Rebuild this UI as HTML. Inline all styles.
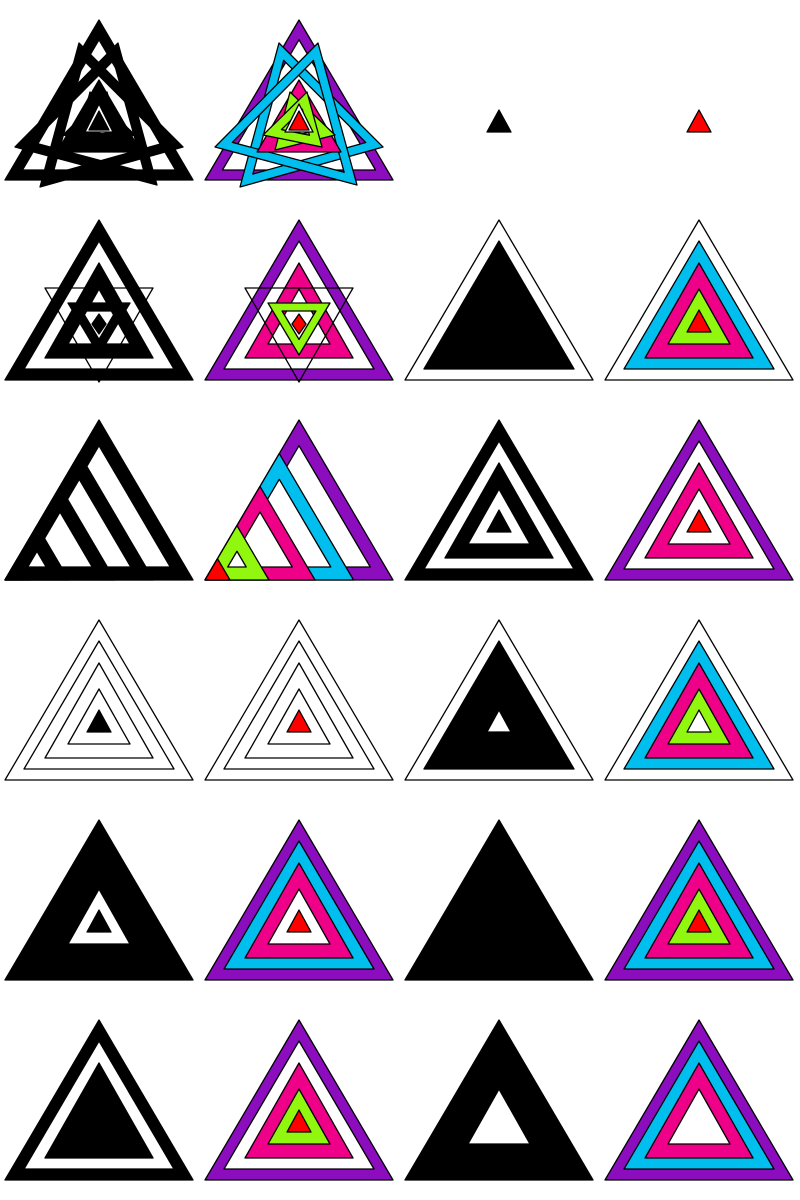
<!DOCTYPE html>
<html><head><meta charset="utf-8"><style>html,body{margin:0;padding:0;background:#fff}svg{display:block}</style></head>
<body>
<svg id="art" width="800" height="1200" viewBox="0 0 800 1200" xmlns="http://www.w3.org/2000/svg"></svg>
<script>
// concentric level geometry (cell-relative)
const LV_APEX = [20, 41, 63, 89, 110];
const LV_BASE = [180, 169, 158, 144, 132];
const LV_HW = [94, 75, 54, 31, 12];
const COLORS = {P:'#8b0dbd', C:'#00bfef', M:'#ee0088', L:'#92f70f', R:'#ff0000', W:'#ffffff'};
// concentric cells: row, col, fills per level
const CONC_ROWS = [0,1,2,3,3,4,4,5,5];
const CONC_COLS = [3,3,3,3,1,3,1,1,3];
const CONC_FILLS = [
  [null,null,null,null,'R'],
  ['W','C','M','L','R'],
  ['P','W','M','W','R'],
  ['W','C','M','L','W'],
  ['W','W','W','W','R'],
  ['P','C','M','L','R'],
  ['P','C','M','W','R'],
  ['P','W','M','L','R'],
  ['P','C','M','W',null]
];
// staircase (row 2) scales anchored at left corner
const STAIR_SCALES = [1, 0.79, 0.585, 0.34, 0.133];
const STAIR_COLORS = ['P','C','M','L','R'];
// rotated rings in row 0: vertices
const RING_TRIS = [
  [[99,20],[193,180],[5,180]],
  [[79,43],[183,147],[40,187]],
  [[118,43],[15,147],[157,185]],
  [[99,80],[141,152],[57,152]],
  [[90,92],[135,135],[75,150]],
  [[107,92],[63,135],[122,147]]
];
const RING_COLORS = ['P','C','C','M','L','L'];
const RING_T = [10,9,9,14,9,9];

const NS='http://www.w3.org/2000/svg';
const svg=document.getElementById('art');
function pts(p){return p.map(q=>q[0].toFixed(2)+','+q[1].toFixed(2)).join(' ');}
function inset(p,t){
  const d=(a,b)=>Math.hypot(a[0]-b[0],a[1]-b[1]);
  const a=d(p[1],p[2]),b=d(p[0],p[2]),c=d(p[0],p[1]),s=a+b+c;
  const ix=(a*p[0][0]+b*p[1][0]+c*p[2][0])/s, iy=(a*p[0][1]+b*p[1][1]+c*p[2][1])/s;
  const area=Math.abs((p[1][0]-p[0][0])*(p[2][1]-p[0][1])-(p[2][0]-p[0][0])*(p[1][1]-p[0][1]))/2;
  const r=2*area/s, k=Math.max(0,(r-t)/r);
  return p.map(q=>[ix+(q[0]-ix)*k, iy+(q[1]-iy)*k]);
}
function mkGroup(r,c,name){
  const g=document.createElementNS(NS,'g');
  g.setAttribute('transform','translate('+(c*200)+','+(r*200)+')');
  
  
  svg.appendChild(g);return g;
}
function fillOf(k,black){if(k==='W')return '#ffffff';return black?'#000000':COLORS[k];}
function tri(g,p,fill,name){
  const e=document.createElementNS(NS,'polygon');
  e.setAttribute('points',pts(p));e.setAttribute('fill',fill);
  e.setAttribute('stroke','#000');e.setAttribute('stroke-width','1.3');e.setAttribute('stroke-linejoin','round');
  
  
  g.appendChild(e);return e;
}
function ring(g,p,t,fill,name){
  const q=inset(p,t);
  const e=document.createElementNS(NS,'path');
  e.setAttribute('d','M'+pts(p).replace(/ /g,' L')+' Z M'+pts(q.slice().reverse()).replace(/ /g,' L')+' Z');
  e.setAttribute('fill',fill);e.setAttribute('fill-rule','evenodd');
  e.setAttribute('stroke','#000');e.setAttribute('stroke-width','1.3');e.setAttribute('stroke-linejoin','round');
  
  
  g.appendChild(e);
}
function level(i){return [[99,LV_APEX[i]],[99+LV_HW[i],LV_BASE[i]],[99-LV_HW[i],LV_BASE[i]]];}
function concentric(g,fills,black){
  fills.forEach((f,i)=>{ if(f) tri(g,level(i),fillOf(f,black),'level-'+i+'-triangle'); });
}
CONC_FILLS.forEach((f,i)=>{
  concentric(mkGroup(CONC_ROWS[i],CONC_COLS[i],'color-cell'),f,false);
  concentric(mkGroup(CONC_ROWS[i],CONC_COLS[i]-1,'black-cell'),f,true);
});
[false,true].forEach(black=>{
  const g=mkGroup(1,black?0:1,black?'black-star-cell':'color-star-cell');
  concentric(g,['P','W','M','W',null],black);
  tri(g,[[45,88],[153,88],[99,182]],'none','inverted-outline');
  ring(g,[[68,103],[130,103],[99,155]],8,fillOf('L',black),'inverted-ring');
  tri(g,[[99,114],[106,124],[99,134],[92,124]],fillOf('R',black),'center-diamond');
});
[false,true].forEach(black=>{
  const g=mkGroup(2,black?0:1,black?'black-stair-cell':'color-stair-cell');
  STAIR_SCALES.forEach((s,i)=>{
    const p=[[5+94*s,180-160*s],[5+188*s,180],[5,180]];
    tri(g,p,fillOf(STAIR_COLORS[i],black),'stair-triangle');
    if(i<STAIR_SCALES.length-1) tri(g,inset(p,13),'#ffffff','stair-inner');
  });
});
[false,true].forEach(black=>{
  const g=mkGroup(0,black?0:1,black?'black-ring-cell':'color-ring-cell');
  RING_TRIS.forEach((p,i)=>ring(g,p,RING_T[i],fillOf(RING_COLORS[i],black),'ring-triangle'));
  tri(g,[[99,104],[113,132],[85,132]],'#ffffff','center-white');
  tri(g,[[99,111],[109,130],[89,130]],fillOf('R',black),'center-red');
});
</script>
</body></html>
